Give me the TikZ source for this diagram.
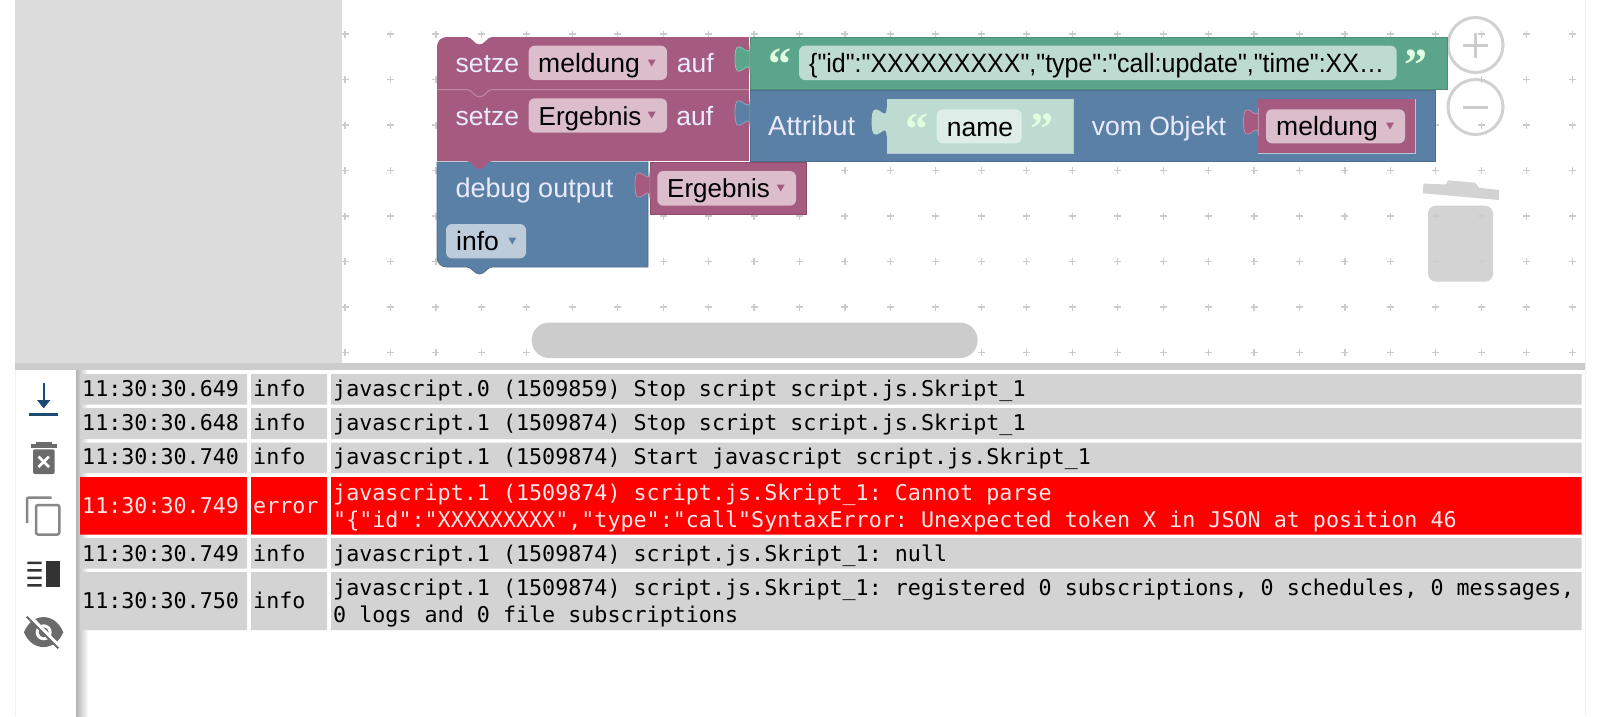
\documentclass[tikz,border=0pt]{standalone}
\usepackage{fontspec}
\setmonofont{DejaVu Sans Mono}
\newfontfamily\blockfont{Liberation Sans}
\newfontfamily\jsonfont{Liberation Sans}[FakeStretch=0.943]
\newfontfamily\quotefont{Liberation Serif}[BoldFont=Liberation Serif Bold]
\definecolor{varpurple}{HTML}{A55B80}
\definecolor{varfield}{HTML}{DBBDCC}
\definecolor{textgreen}{HTML}{5BA58C}
\definecolor{textfield}{HTML}{BDDBD1}
\definecolor{namefield}{HTML}{DEEDE8}
\definecolor{listblue}{HTML}{5B80A5}
\definecolor{listfield}{HTML}{BDCCDB}
\definecolor{rowgray}{HTML}{D3D3D3}
\definecolor{uigray}{HTML}{CCCCCC}
\definecolor{panelgray}{HTML}{DCDCDC}
\definecolor{scrollblue}{HTML}{1B4B72}
\tikzset{
  blocktxt/.style={anchor=base west,inner sep=0pt,font=\blockfont\fontsize{26.5}{30}\selectfont},
  whitetxt/.style={blocktxt,text=white!92!blue},
  logtxt/.style={anchor=base west,inner sep=0pt,font=\ttfamily\fontsize{21.7}{27}\selectfont},
  errtxt/.style={logtxt,text=white!90!red},
  quotemark/.style={anchor=center,inner sep=0pt,text=white!88!green,font=\quotefont\bfseries\fontsize{46}{46}\selectfont},
  gridplus/.style={uigray,line width=1.2pt},
}
\newcommand{\pzltab}[4]{%
  \filldraw[fill=#3,draw=#4,line width=0.8pt,shift={(#1,#2)}] (0,0) .. controls (0,19) and (-15,-15) .. (-15,14)
    .. controls (-15,43) and (0,9) .. (0,28) -- cycle;}
\newcommand{\ddmark}[3]{\fill[#3,shift={(#1,#2)}] (-4,-3.5) -- (4,-3.5) -- (0,3.5) -- cycle;}
\begin{document}
\begin{tikzpicture}[x=1pt,y=-1pt]
  \useasboundingbox (0,0) rectangle (1600,716);
  \fill[white] (0,0) rectangle (1600,716);
  \fill[panelgray] (15,0) rectangle (342,363);
  \foreach \gx in {0,...,27}
    \foreach \gy in {0,...,7}
      \draw[gridplus,shift={(345+45.45*\gx,34+45.5*\gy)}] (-3.5,0) -- (3.5,0) (0,-3.5) -- (0,3.5);
  \draw[black!6,line width=1pt] (1585,0) -- (1585,716);
  \draw[black!6,line width=1pt] (15,370) -- (15,716);
  % zoom and trash
  \draw[uigray,line width=3pt,opacity=.9] (1475.5,45) circle[radius=27.5];
  \draw[uigray,line width=3pt,opacity=.9] (1475.5,107) circle[radius=27.5];
  \draw[uigray,line width=3pt] (1475.5,33) -- (1475.5,58) (1463,45) -- (1488,45);
  \draw[uigray,line width=3pt] (1463,107) -- (1488,107);
  \fill[uigray,opacity=.85] (1423.3,183.5) -- (1446,184.5) -- (1448,180.3) -- (1475,182.7) -- (1479,187.7) -- (1499,190) -- (1498.7,200) -- (1423,193.3) -- cycle;
  \fill[uigray,opacity=.85,rounded corners=8pt] (1428,205.7) -- (1493,205.7) -- (1493,281.7) -- (1428,281.7) -- cycle;
  \fill[uigray,rounded corners=17.5pt] (531.7,322.5) rectangle (977.6,358);
  % blocks
  \filldraw[fill=listblue,draw=listblue!85!black,line width=0.8pt] (437,162) -- (648,162) -- (648,267) -- (492,267) .. controls (487,267) and (485,274) .. (479.5,274) .. controls (474,274) and (472,267) .. (467,267) -- (447,267) .. controls (441,267) and (437,263) .. (437,257) -- cycle;
  \fill[varpurple] (437,88) rectangle (749,161);
  \fill[varpurple] (467,161) .. controls (472,161) and (474,169) .. (479.5,169) .. controls (485,169) and (487,161) .. (492,161) -- cycle;
  \fill[varpurple] (437,47) .. controls (437,41) and (441,37) .. (447,37) -- (467,37) .. controls (472,37) and (474,44.5) .. (479.5,44.5) .. controls (485,44.5) and (487,37) .. (492,37) -- (749,37) -- (749,89) -- (437,89) -- cycle;
  \draw[varpurple!72!white,line width=1pt] (437,89.5) -- (467,89.5) .. controls (472,89.5) and (474,97) .. (479.5,97) .. controls (485,97) and (487,89.5) .. (492,89.5) -- (749,89.5);
  \filldraw[fill=textgreen,draw=textgreen!85!black,line width=0.8pt] (750,37) rectangle (1447,89);
  \filldraw[fill=listblue,draw=listblue!85!black,line width=0.8pt] (750,90.5) rectangle (1435.5,161);
  \draw[white,line width=1pt] (749.5,37) -- (749.5,161);
  \pzltab{750}{45}{textgreen}{textgreen!70!white}
  \pzltab{750}{99}{listblue}{listblue!70!white}
  \fill[textfield] (886.7,99.3) rectangle (1073.3,153.3);
  \draw[listblue!45!white,line width=1pt] (886.7,153.3) -- (1073.3,153.3) -- (1073.3,99.3);
  \pzltab{887}{108}{textfield}{textfield}
  \fill[varpurple] (1258.3,99.3) rectangle (1415.5,153.3);
  \draw[listblue!45!white,line width=1pt] (1258.3,153.3) -- (1415.5,153.3) -- (1415.5,99.3);
  \pzltab{1258.5}{108}{varpurple}{varpurple!70!white}
  \filldraw[fill=varpurple,draw=varpurple!85!black,line width=0.8pt] (650,162.3) rectangle (806.7,214.3);
  \pzltab{650}{171}{varpurple}{varpurple!70!white}
  % fields
  \fill[varfield,rounded corners=6pt] (528.7,45.7) rectangle (667,80);
  \fill[varfield,rounded corners=6pt] (528.7,98.3) rectangle (667,132.7);
  \fill[textfield,rounded corners=6pt] (799,45.7) rectangle (1396.7,80);
  \fill[namefield,rounded corners=6pt] (936.7,109.3) rectangle (1021.7,143.3);
  \fill[varfield,rounded corners=6pt] (1266,109.3) rectangle (1405,143.3);
  \fill[varfield,rounded corners=6pt] (657.3,171) rectangle (796,205.7);
  \fill[listfield,rounded corners=6pt] (446,224) rectangle (526,258.3);
  \ddmark{651.7}{63}{varpurple}
  \ddmark{651.7}{115}{varpurple}
  \ddmark{1390}{126}{varpurple}
  \ddmark{780.7}{188}{varpurple}
  \ddmark{512.3}{241}{listblue}
  \node[whitetxt] (setzea) at (455.5,72) {setze};
  \node[blocktxt] (meldunga) at (538,72) {meldung};
  \node[whitetxt] (aufa) at (676.7,72) {auf};
  \node[whitetxt] (setzeb) at (455.5,125) {setze};
  \node[blocktxt,font=\blockfont\fontsize{26}{30}\selectfont] (ergebnisa) at (538.5,125) {Ergebnis};
  \node[whitetxt] (aufb) at (676.2,125) {auf};
  \node[whitetxt,font=\blockfont\fontsize{27}{30}\selectfont] (debug) at (455.5,197.7) {debug output};
  \node[blocktxt,font=\blockfont\fontsize{26}{30}\selectfont] (ergebnisb) at (667,197.7) {Ergebnis};
  \node[blocktxt] (info) at (456,250) {info};
  \node[blocktxt,font=\jsonfont\fontsize{26.5}{30}\selectfont] (json) at (809,72.3) {\{"id":"XXXXXXXXX","type":"call:update","time":XX…};
  \node[whitetxt,font=\blockfont\fontsize{27.5}{30}\selectfont] (attr) at (768,135) {Attribut};
  \node[blocktxt] (name) at (946.7,136) {name};
  \node[whitetxt] (vom) at (1091.7,135) {vom Objekt};
  \node[blocktxt] (meldungb) at (1276,135) {meldung};
  \node[quotemark] (opena) at (779.5,64.5) {“};
  \node[quotemark] (closea) at (1415.5,65) {”};
  \node[quotemark] (openb) at (917,129) {“};
  \node[quotemark] (closeb) at (1042,129) {”};
  % log panel
  \fill[uigray] (15,363) rectangle (1585,370);
  \shade[left color=black!30,right color=white] (76,370) rectangle (88,716);
  \fill[white] (15.5,370) rectangle (76,716);
  \fill[rowgray] (80,374) rectangle (247,404.7) (251,374) rectangle (327,404.7) (331,374) rectangle (1581.7,404.7);
  \fill[rowgray] (80,408) rectangle (247,439) (251,408) rectangle (327,439) (331,408) rectangle (1581.7,439);
  \fill[rowgray] (80,442.7) rectangle (247,473) (251,442.7) rectangle (327,473) (331,442.7) rectangle (1581.7,473);
  \fill[red] (80,477) rectangle (247,534.7) (251,477) rectangle (327,534.7) (331,477) rectangle (1581.7,534.7);
  \fill[rowgray] (80,538) rectangle (247,568.7) (251,538) rectangle (327,568.7) (331,538) rectangle (1581.7,568.7);
  \fill[rowgray] (80,572) rectangle (247,630) (251,572) rectangle (327,630) (331,572) rectangle (1581.7,630);
  \node[logtxt] (ta) at (82,396.7) {11:30:30.649};
  \node[logtxt] (la) at (253,396.7) {info};
  \node[logtxt] (ma) at (333,396.7) {javascript.0 (1509859) Stop script script.js.Skript\_1};
  \node[logtxt] (tb) at (82,430) {11:30:30.648};
  \node[logtxt] (lb) at (253,430) {info};
  \node[logtxt] (mb) at (333,430) {javascript.1 (1509874) Stop script script.js.Skript\_1};
  \node[logtxt] (tc) at (82,464.7) {11:30:30.740};
  \node[logtxt] (lc) at (253,464.7) {info};
  \node[logtxt] (mc) at (333,464.7) {javascript.1 (1509874) Start javascript script.js.Skript\_1};
  \node[errtxt] (td) at (82,513) {11:30:30.749};
  \node[errtxt] (ld) at (253,513) {error};
  \node[errtxt] (md) at (333,500) {javascript.1 (1509874) script.js.Skript\_1: Cannot parse};
  \node[errtxt] (me) at (333,527.2) {"\{"id":"XXXXXXXXX","type":"call"SyntaxError: Unexpected token X in JSON at position 46};
  \node[logtxt] (tf) at (82,561) {11:30:30.749};
  \node[logtxt] (lf) at (253,561) {info};
  \node[logtxt] (mf) at (333,561) {javascript.1 (1509874) script.js.Skript\_1: null};
  \node[logtxt] (tg) at (82,608) {11:30:30.750};
  \node[logtxt] (lg) at (253,608) {info};
  \node[logtxt] (mg) at (333,595) {javascript.1 (1509874) script.js.Skript\_1: registered 0 subscriptions, 0 schedules, 0 messages,};
  \node[logtxt] (mh) at (333,622) {0 logs and 0 file subscriptions};
  % side icons
  \draw[scrollblue,line width=2.4pt] (43.7,383.3) -- (43.7,402);
  \fill[scrollblue] (37,400) -- (50.4,400) -- (43.7,408.3) -- cycle;
  \fill[scrollblue] (29,412.5) rectangle (58,416);
  \fill[black!58] (30.7,443.5) rectangle (56.7,447.7);
  \fill[black!58] (36,441.7) rectangle (51.7,444);
  \fill[black!58,rounded corners=2pt] (33,449.3) rectangle (54.7,474);
  \draw[white,line width=2.8pt] (38.5,456.5) -- (49,467) (49,456.5) -- (38.5,467);
  \draw[black!47,line width=2.5pt,rounded corners=2pt] (27,523) -- (27,497.5) -- (51.5,497.5);
  \draw[black!47,line width=2.5pt,rounded corners=2pt] (36,505) rectangle (59.3,534.5);
  \fill[black!80] (27.3,561.5) rectangle (41.7,564) (27.3,569) rectangle (41.7,571.5) (27.3,576.5) rectangle (41.7,579) (27.3,584) rectangle (41.7,586.7);
  \fill[black!80] (46,561) rectangle (60,586.7);
  \fill[black!58] (24,632.3) .. controls (32,612) and (55,612) .. (63.3,632.3) .. controls (55,652) and (32,652) .. (24,632.3) -- cycle;
  \fill[white] (43.7,632.3) circle[radius=8];
  \fill[black!58] (43.7,632.3) circle[radius=5];
  \draw[white,line width=4pt] (30,616.7) -- (61,648.3);
  \draw[black!58,line width=2pt] (26.7,616.7) -- (58.3,648.3);
\end{tikzpicture}
\end{document}
